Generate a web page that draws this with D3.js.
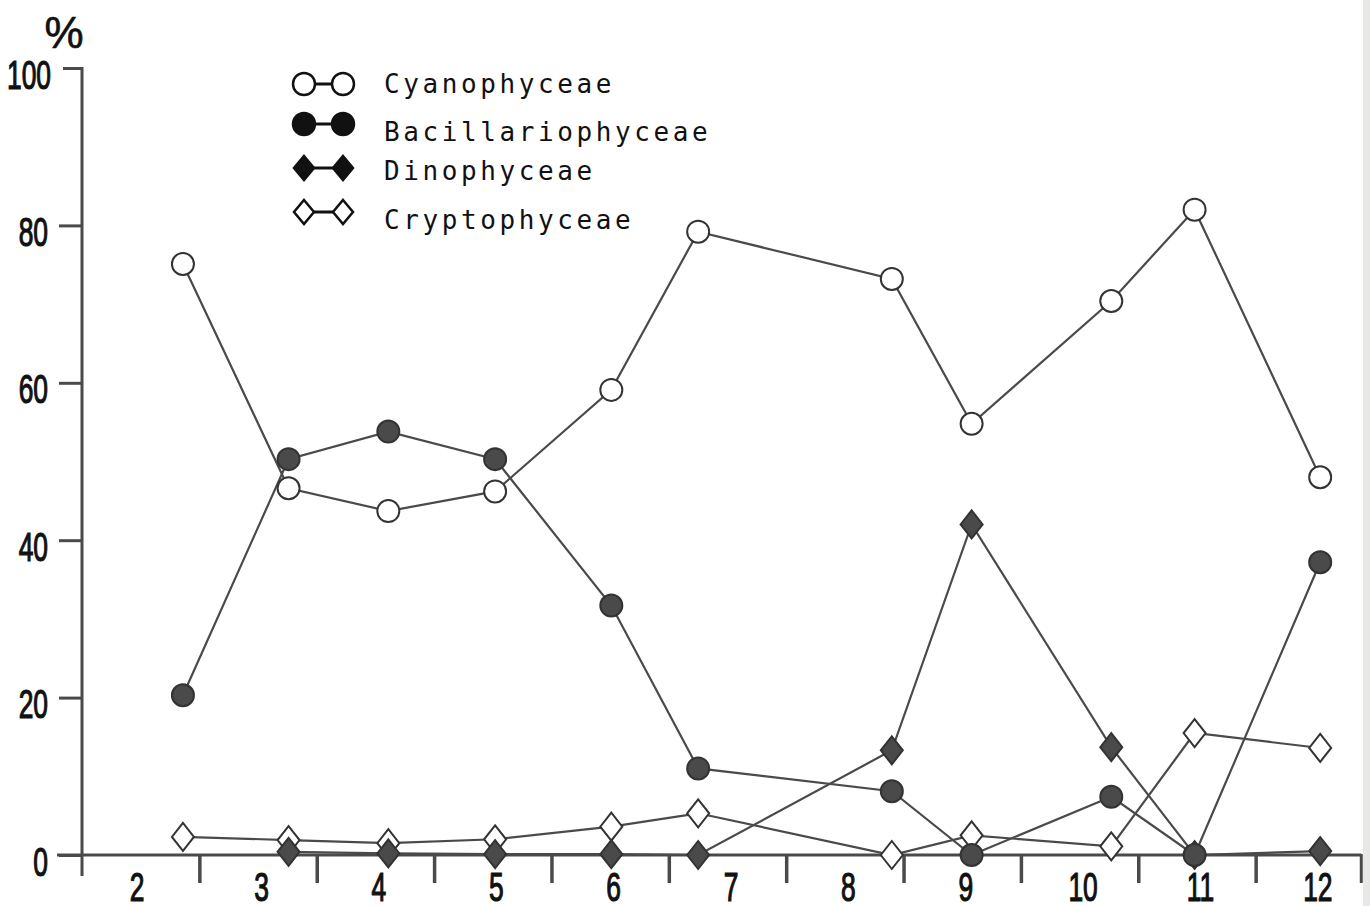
<!DOCTYPE html>
<html>
<head>
<meta charset="utf-8">
<script src="https://cdn.jsdelivr.net/npm/d3@7"></script>
<style>
	body { margin: 0; background: #fff; }
	.num { font-family: "Liberation Sans", Arial, sans-serif; fill: #111; stroke: #111; stroke-width: 1.2px; }
	.leg { font-family: "DejaVu Sans Mono", monospace; fill: #111; }
</style>
</head>
<body>
<div id="canvas"></div>
<script>
// sampling dates, as fractional month (2 = start of Feb)
var dates = [2.86, 3.76, 4.61, 5.52, 6.51, 7.25, 8.90, 9.58, 10.77, 11.48, 12.55];
var cyanoVals = [75.1, 46.6, 43.7, 46.2, 59.1, 79.2, 73.2, 54.8, 70.4, 82.0, 48.0];
var bacillVals = [20.3, 50.3, 53.8, 50.3, 31.7, 11.0, 8.1, 0, 7.4, 0, 37.2];
var dinoVals = [null, 0.4, 0.2, 0.1, 0.1, 0, 13.3, 42.0, 13.7, 0, 0.5];
var cryptoVals = [2.3, 1.9, 1.5, 2.0, 3.6, 5.3, 0, 2.5, 1.1, 15.5, 13.6];

var monthLabels = ["2", "3", "4", "5", "6", "7", "8", "9", "10", "11", "12"];
var monthTicks = [3, 4, 5, 6, 7, 8, 9, 10, 11, 12];
var yTicks = [0, 20, 40, 60, 80, 100];
var legendNames = ["Cyanophyceae", "Bacillariophyceae", "Dinophyceae", "Cryptophyceae"];

var width = 1370, height = 906;
var ink = "#4a4a4a";
var narrow = 0.66;
var svg = d3.select("#canvas").append("svg").attr("width", width).attr("height", height);

var x = d3.scaleLinear().domain([2, 13]).range([82, 1373]);
var y = d3.scaleLinear().domain([0, 100]).range([855, 68]);

// squeeze a text horizontally around its anchor, the print uses a condensed face
var squeeze = function(sel, tx, ty) {
	sel.attr("x", 0).attr("y", 0)
		.attr("transform", "translate(" + tx + "," + ty + ") scale(" + narrow + ",1)");
};

// page edge shadow on the right
svg.append("rect").attr("x", 1363).attr("y", 0).attr("width", 7).attr("height", height)
	.attr("fill", "#e8e8e6");

// y axis
var yAxis = svg.append("g").attr("transform", "translate(" + x(2) + ",0)")
	.call(d3.axisLeft(y).tickValues(yTicks).tickSize(23).tickPadding(11).tickFormat(d3.format("d")));
yAxis.select(".domain").remove();
yAxis.selectAll(".tick line").attr("stroke", ink).attr("stroke-width", 3);
yAxis.selectAll(".tick text").attr("class", "num").attr("font-family", null)
	.style("font-size", "40px").attr("dy", "0.4em")
	.each(function(d) { squeeze(d3.select(this), d === 100 ? -31 : -34, 4); });
yAxis.selectAll(".tick").filter(function(d) { return d === 100; }).select("line")
	.attr("x2", -19);
svg.append("line").attr("x1", x(2)).attr("x2", x(2)).attr("y1", y(100) - 1).attr("y2", 876)
	.attr("stroke", ink).attr("stroke-width", 3);

svg.append("text").text("%").attr("class", "num").attr("x", 64).attr("y", 48)
	.attr("text-anchor", "middle").style("font-size", "44px").style("stroke-width", "0.6px");

// x axis
var xAxis = svg.append("g").attr("transform", "translate(0," + y(0) + ")")
	.call(d3.axisBottom(x).tickValues(monthTicks).tickSize(28).tickFormat(""));
xAxis.select(".domain").remove();
xAxis.selectAll(".tick line").attr("stroke", ink).attr("stroke-width", 3.5);
svg.append("line").attr("x1", x(2) - 25).attr("x2", x(12.9)).attr("y1", y(0)).attr("y2", y(0))
	.attr("stroke", ink).attr("stroke-width", 3);
svg.append("line").attr("x1", x(12.9)).attr("x2", x(12.9)).attr("y1", y(0) - 1).attr("y2", y(0) + 28)
	.attr("stroke", ink).attr("stroke-width", 3);

var xLab = svg.append("g").attr("transform", "translate(0," + y(0) + ")")
	.call(d3.axisBottom(x).tickValues(monthLabels.map(function(m) { return +m + 0.5; }))
		.tickSize(0).tickPadding(0).tickFormat(function(d, i) { return monthLabels[i]; }));
xLab.select(".domain").remove();
xLab.selectAll(".tick text").attr("class", "num").attr("font-family", null)
	.style("font-size", "40px").attr("dy", null)
	.each(function(d, i) { squeeze(d3.select(this), i === 0 ? -4 : 3, 46); });

// series
var diamond = function(hw, hh) {
	return "M0," + (-hh) + "L" + hw + ",0L0," + hh + "L" + (-hw) + ",0Z";
};

var series = [
	{ name: "cyano", vals: cyanoVals, shape: "circle", fill: "#fff" },
	{ name: "bacill", vals: bacillVals, shape: "circle", fill: ink },
	{ name: "dino", vals: dinoVals, shape: "diamond", fill: ink },
	{ name: "crypto", vals: cryptoVals, shape: "diamond", fill: "#fff" }
];

var line = d3.line()
	.defined(function(d) { return d.v !== null; })
	.x(function(d) { return x(d.t); })
	.y(function(d) { return y(d.v); });

series.forEach(function(s) {
	s.pts = dates.map(function(t, i) { return { t: t, v: s.vals[i] }; });
	svg.append("path").datum(s.pts).attr("d", line)
		.attr("fill", "none").attr("stroke", ink).attr("stroke-width", 2.2);
});

[series[3], series[2], series[1], series[0]].forEach(function(s) {
	var pts = s.pts.filter(function(d) { return d.v !== null; });
	if (s.shape === "circle") {
		svg.selectAll(".m_" + s.name).data(pts).enter().append("circle")
			.attr("class", "m_" + s.name)
			.attr("cx", function(d) { return x(d.t); })
			.attr("cy", function(d) { return y(d.v); })
			.attr("r", 11)
			.attr("fill", s.fill)
			.attr("stroke", "#333")
			.attr("stroke-width", 2);
	} else {
		svg.selectAll(".m_" + s.name).data(pts).enter().append("path")
			.attr("class", "m_" + s.name)
			.attr("d", diamond(11, 14))
			.attr("transform", function(d) { return "translate(" + x(d.t) + "," + y(d.v) + ")"; })
			.attr("fill", s.fill)
			.attr("stroke", "#333")
			.attr("stroke-width", 2);
	}
});

// legend
var legY = [84, 124, 168, 212];
var legTextY = [93, 141, 180, 229];
series.forEach(function(s, i) {
	var g = svg.append("g").attr("transform", "translate(0," + legY[i] + ")");
	g.append("line").attr("x1", 304).attr("x2", 343).attr("y1", 0).attr("y2", 0)
		.attr("stroke", "#111").attr("stroke-width", 3);
	[304, 343].forEach(function(cx) {
		if (s.shape === "circle") {
			g.append("circle").attr("cx", cx).attr("cy", 0).attr("r", 11)
				.attr("fill", s.fill === "#fff" ? "#fff" : "#111")
				.attr("stroke", "#111").attr("stroke-width", 2.5);
		} else {
			g.append("path").attr("d", diamond(10, 12)).attr("transform", "translate(" + cx + ",0)")
				.attr("fill", s.fill === "#fff" ? "#fff" : "#111")
				.attr("stroke", "#111").attr("stroke-width", 2.5);
		}
	});
	svg.append("text").attr("class", "leg").attr("x", 384).attr("y", legTextY[i])
		.text(legendNames[i])
		.style("font-size", "26px").style("letter-spacing", "3.6px");
});
</script>
</body>
</html>
